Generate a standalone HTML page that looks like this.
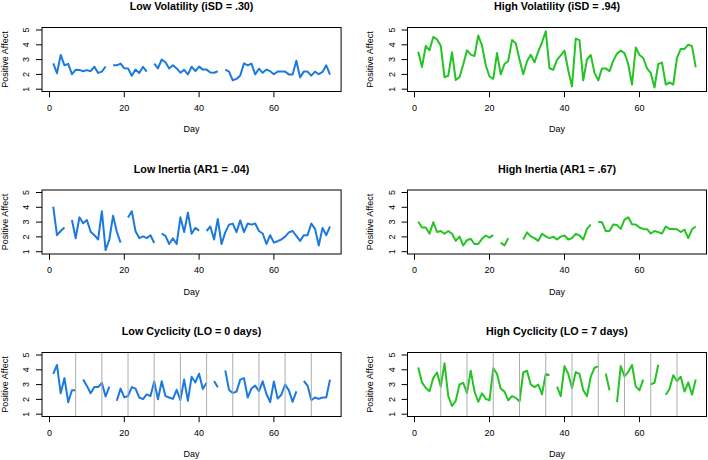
<!DOCTYPE html><html><head><meta charset="utf-8"><style>html,body{margin:0;padding:0;background:#fff;width:708px;height:460px;overflow:hidden}svg{display:block}text{font-family:"Liberation Sans",sans-serif;fill:#000}</style></head><body>
<svg width="708" height="460" viewBox="0 0 708 460">
<rect width="708" height="460" fill="#fff"/>
<polyline points="53.24,63.40 56.98,73.20 60.72,54.90 64.46,65.30 68.20,63.90 71.94,74.20 75.68,69.80 79.42,69.90 83.16,71.20 86.90,70.10 90.64,71.20 94.38,66.70 98.12,72.90 101.86,71.60 105.60,66.50" fill="none" stroke="#1c7ade" stroke-width="2" stroke-linejoin="round" stroke-linecap="butt"/>
<polyline points="113.08,65.30 116.82,65.30 120.56,63.60 124.30,68.30 128.04,68.40 131.78,75.70 135.52,69.60 139.26,73.00 143.00,66.80 146.74,71.60" fill="none" stroke="#1c7ade" stroke-width="2" stroke-linejoin="round" stroke-linecap="butt"/>
<polyline points="154.22,63.60 157.96,68.40 161.70,59.50 165.44,62.20 169.18,68.40 172.92,65.30 176.66,68.40 180.40,72.70 184.14,69.90 187.88,74.40 191.62,66.70 195.36,71.20 199.10,66.60 202.84,69.60 206.58,69.60 210.32,72.50 214.06,72.70 217.80,71.30" fill="none" stroke="#1c7ade" stroke-width="2" stroke-linejoin="round" stroke-linecap="butt"/>
<polyline points="225.28,69.60 229.02,71.60 232.76,80.30 236.50,78.90 240.24,75.50 243.98,63.40 247.72,65.30 251.46,63.60 255.20,74.40 258.94,68.70 262.68,72.80 266.42,69.60 270.16,71.20 273.90,74.30 277.64,71.60 281.38,71.60 285.12,71.60 288.86,74.40 292.60,74.40 296.34,60.80 300.08,77.40 303.82,71.60 307.56,71.60 311.30,75.70 315.04,71.60 318.78,74.20 322.52,71.90 326.26,65.30 330.00,74.60" fill="none" stroke="#1c7ade" stroke-width="2" stroke-linejoin="round" stroke-linecap="butt"/>
<rect x="42.0" y="27.5" width="299.10" height="64.00" fill="none" stroke="#000" stroke-width="1"/>
<line x1="36.0" y1="89.20" x2="42.0" y2="89.20" stroke="#000" stroke-width="1"/>
<text transform="translate(29.3,89.20) rotate(-90)" text-anchor="middle" font-size="9">1</text>
<line x1="36.0" y1="74.40" x2="42.0" y2="74.40" stroke="#000" stroke-width="1"/>
<text transform="translate(29.3,74.40) rotate(-90)" text-anchor="middle" font-size="9">2</text>
<line x1="36.0" y1="59.60" x2="42.0" y2="59.60" stroke="#000" stroke-width="1"/>
<text transform="translate(29.3,59.60) rotate(-90)" text-anchor="middle" font-size="9">3</text>
<line x1="36.0" y1="44.80" x2="42.0" y2="44.80" stroke="#000" stroke-width="1"/>
<text transform="translate(29.3,44.80) rotate(-90)" text-anchor="middle" font-size="9">4</text>
<line x1="36.0" y1="30.00" x2="42.0" y2="30.00" stroke="#000" stroke-width="1"/>
<text transform="translate(29.3,30.00) rotate(-90)" text-anchor="middle" font-size="9">5</text>
<line x1="49.50" y1="91.5" x2="49.50" y2="97.20" stroke="#000" stroke-width="1"/>
<text x="49.50" y="110.80" text-anchor="middle" font-size="9">0</text>
<line x1="124.30" y1="91.5" x2="124.30" y2="97.20" stroke="#000" stroke-width="1"/>
<text x="124.30" y="110.80" text-anchor="middle" font-size="9">20</text>
<line x1="199.10" y1="91.5" x2="199.10" y2="97.20" stroke="#000" stroke-width="1"/>
<text x="199.10" y="110.80" text-anchor="middle" font-size="9">40</text>
<line x1="273.90" y1="91.5" x2="273.90" y2="97.20" stroke="#000" stroke-width="1"/>
<text x="273.90" y="110.80" text-anchor="middle" font-size="9">60</text>
<text x="191.55" y="132.30" text-anchor="middle" font-size="9">Day</text>
<text transform="translate(7.6,59.50) rotate(-90)" text-anchor="middle" font-size="9">Positive Affect</text>
<text x="191.55" y="10.00" text-anchor="middle" font-size="10.75" font-weight="bold">Low Volatility (iSD = .30)</text>
<polyline points="418.25,51.70 422.00,67.00 425.75,45.80 429.50,50.30 433.25,36.90 437.00,39.40 440.75,45.80 444.50,77.20 448.25,75.80 452.00,52.20 455.75,80.00 459.50,77.20 463.25,64.50 467.00,50.30 470.75,54.60 474.50,56.00 478.25,35.50 482.00,45.40 485.75,65.20 489.50,76.50 493.25,78.80 497.00,53.10 500.75,74.30 504.50,64.00 508.25,60.90 512.00,40.10 515.75,43.30 519.50,59.50 523.25,74.30 527.00,61.30 530.75,54.80 534.50,62.30 538.25,51.70 542.00,42.50 545.75,31.20 549.50,68.30 553.25,69.80 557.00,59.80 560.75,55.30 564.50,50.70 568.25,70.50 572.00,86.40 575.75,38.60 579.50,40.10 583.25,80.40 587.00,59.50 590.75,55.00 594.50,72.90 598.25,80.40 602.00,68.40 605.75,68.40 609.50,71.10 613.25,60.90 617.00,53.60 620.75,50.60 624.50,53.10 628.25,64.20 632.00,84.70 635.75,47.50 639.50,55.00 643.25,58.00 647.00,68.30 650.75,72.90 654.50,87.50 658.25,64.00 662.00,62.60 665.75,84.50 669.50,82.50 673.25,84.50 677.00,57.80 680.75,48.90 684.50,48.90 688.25,44.70 692.00,46.10 695.75,67.30" fill="none" stroke="#24c424" stroke-width="2" stroke-linejoin="round" stroke-linecap="butt"/>
<rect x="407.5" y="27.5" width="299.00" height="64.00" fill="none" stroke="#000" stroke-width="1"/>
<line x1="401.6" y1="89.20" x2="407.5" y2="89.20" stroke="#000" stroke-width="1"/>
<text transform="translate(394.8,89.20) rotate(-90)" text-anchor="middle" font-size="9">1</text>
<line x1="401.6" y1="74.40" x2="407.5" y2="74.40" stroke="#000" stroke-width="1"/>
<text transform="translate(394.8,74.40) rotate(-90)" text-anchor="middle" font-size="9">2</text>
<line x1="401.6" y1="59.60" x2="407.5" y2="59.60" stroke="#000" stroke-width="1"/>
<text transform="translate(394.8,59.60) rotate(-90)" text-anchor="middle" font-size="9">3</text>
<line x1="401.6" y1="44.80" x2="407.5" y2="44.80" stroke="#000" stroke-width="1"/>
<text transform="translate(394.8,44.80) rotate(-90)" text-anchor="middle" font-size="9">4</text>
<line x1="401.6" y1="30.00" x2="407.5" y2="30.00" stroke="#000" stroke-width="1"/>
<text transform="translate(394.8,30.00) rotate(-90)" text-anchor="middle" font-size="9">5</text>
<line x1="414.50" y1="91.5" x2="414.50" y2="97.20" stroke="#000" stroke-width="1"/>
<text x="414.50" y="110.80" text-anchor="middle" font-size="9">0</text>
<line x1="489.50" y1="91.5" x2="489.50" y2="97.20" stroke="#000" stroke-width="1"/>
<text x="489.50" y="110.80" text-anchor="middle" font-size="9">20</text>
<line x1="564.50" y1="91.5" x2="564.50" y2="97.20" stroke="#000" stroke-width="1"/>
<text x="564.50" y="110.80" text-anchor="middle" font-size="9">40</text>
<line x1="639.50" y1="91.5" x2="639.50" y2="97.20" stroke="#000" stroke-width="1"/>
<text x="639.50" y="110.80" text-anchor="middle" font-size="9">60</text>
<text x="557.00" y="132.30" text-anchor="middle" font-size="9">Day</text>
<text transform="translate(373.1,59.50) rotate(-90)" text-anchor="middle" font-size="9">Positive Affect</text>
<text x="557.00" y="10.00" text-anchor="middle" font-size="10.75" font-weight="bold">High Volatility (iSD = .94)</text>
<polyline points="53.24,206.70 56.98,235.20 60.72,231.00 64.46,227.50" fill="none" stroke="#1c7ade" stroke-width="2" stroke-linejoin="round" stroke-linecap="butt"/>
<polyline points="71.94,220.00 75.68,238.30 79.42,217.30 83.16,223.20 86.90,220.00 90.64,231.70 94.38,235.20 98.12,239.50 101.86,211.20 105.60,250.10 109.34,239.50 113.08,215.70 116.82,231.70 120.56,242.60" fill="none" stroke="#1c7ade" stroke-width="2" stroke-linejoin="round" stroke-linecap="butt"/>
<polyline points="128.04,217.40 131.78,211.20 135.52,231.30 139.26,238.10 143.00,236.40 146.74,238.10 150.48,235.20 154.22,243.00" fill="none" stroke="#1c7ade" stroke-width="2" stroke-linejoin="round" stroke-linecap="butt"/>
<polyline points="161.70,233.50 165.44,235.90 169.18,244.00 172.92,238.30 176.66,244.00 180.40,217.30 184.14,232.10 187.88,212.60 191.62,233.80 195.36,227.70 199.10,230.80" fill="none" stroke="#1c7ade" stroke-width="2" stroke-linejoin="round" stroke-linecap="butt"/>
<polyline points="206.58,231.00 210.32,226.50 214.06,239.50 217.80,219.00 221.54,244.00 225.28,232.40 229.02,224.60 232.76,223.60 236.50,232.10 240.24,220.40 243.98,232.10 247.72,223.50 251.46,224.60 255.20,223.50 258.94,231.00 262.68,233.50 266.42,244.00 270.16,235.20 273.90,242.60 277.64,241.20 281.38,239.50 285.12,236.60 288.86,232.40 292.60,231.00 296.34,235.90 300.08,240.90 303.82,235.20 307.56,235.20 311.30,223.50 315.04,228.90 318.78,245.50 322.52,227.90 326.26,235.20 330.00,226.50" fill="none" stroke="#1c7ade" stroke-width="2" stroke-linejoin="round" stroke-linecap="butt"/>
<rect x="42.0" y="190.0" width="299.10" height="64.00" fill="none" stroke="#000" stroke-width="1"/>
<line x1="36.0" y1="251.70" x2="42.0" y2="251.70" stroke="#000" stroke-width="1"/>
<text transform="translate(29.3,251.70) rotate(-90)" text-anchor="middle" font-size="9">1</text>
<line x1="36.0" y1="236.90" x2="42.0" y2="236.90" stroke="#000" stroke-width="1"/>
<text transform="translate(29.3,236.90) rotate(-90)" text-anchor="middle" font-size="9">2</text>
<line x1="36.0" y1="222.10" x2="42.0" y2="222.10" stroke="#000" stroke-width="1"/>
<text transform="translate(29.3,222.10) rotate(-90)" text-anchor="middle" font-size="9">3</text>
<line x1="36.0" y1="207.30" x2="42.0" y2="207.30" stroke="#000" stroke-width="1"/>
<text transform="translate(29.3,207.30) rotate(-90)" text-anchor="middle" font-size="9">4</text>
<line x1="36.0" y1="192.50" x2="42.0" y2="192.50" stroke="#000" stroke-width="1"/>
<text transform="translate(29.3,192.50) rotate(-90)" text-anchor="middle" font-size="9">5</text>
<line x1="49.50" y1="254.0" x2="49.50" y2="259.70" stroke="#000" stroke-width="1"/>
<text x="49.50" y="273.30" text-anchor="middle" font-size="9">0</text>
<line x1="124.30" y1="254.0" x2="124.30" y2="259.70" stroke="#000" stroke-width="1"/>
<text x="124.30" y="273.30" text-anchor="middle" font-size="9">20</text>
<line x1="199.10" y1="254.0" x2="199.10" y2="259.70" stroke="#000" stroke-width="1"/>
<text x="199.10" y="273.30" text-anchor="middle" font-size="9">40</text>
<line x1="273.90" y1="254.0" x2="273.90" y2="259.70" stroke="#000" stroke-width="1"/>
<text x="273.90" y="273.30" text-anchor="middle" font-size="9">60</text>
<text x="191.55" y="294.80" text-anchor="middle" font-size="9">Day</text>
<text transform="translate(7.6,222.00) rotate(-90)" text-anchor="middle" font-size="9">Positive Affect</text>
<text x="191.55" y="172.50" text-anchor="middle" font-size="10.75" font-weight="bold">Low Inertia (AR1 = .04)</text>
<polyline points="418.25,221.80 422.00,227.50 425.75,227.50 429.50,233.80 433.25,222.20 437.00,232.00 440.75,231.00 444.50,233.80 448.25,231.00 452.00,233.80 455.75,240.90 459.50,236.60 463.25,245.50 467.00,240.20 470.75,238.80 474.50,244.00 478.25,244.00 482.00,238.80 485.75,235.50 489.50,237.70 493.25,235.20" fill="none" stroke="#24c424" stroke-width="2" stroke-linejoin="round" stroke-linecap="butt"/>
<polyline points="500.75,242.60 504.50,245.50 508.25,238.10" fill="none" stroke="#24c424" stroke-width="2" stroke-linejoin="round" stroke-linecap="butt"/>
<polyline points="523.25,239.50 527.00,232.40 530.75,236.40 534.50,238.10 538.25,240.90 542.00,233.80 545.75,236.40 549.50,238.10 553.25,236.60 557.00,239.50 560.75,236.60 564.50,235.50 568.25,239.50 572.00,238.10 575.75,233.80 579.50,235.50 583.25,239.50 587.00,228.90 590.75,224.60" fill="none" stroke="#24c424" stroke-width="2" stroke-linejoin="round" stroke-linecap="butt"/>
<polyline points="598.25,221.80 602.00,222.20 605.75,231.00 609.50,231.00 613.25,224.60 617.00,225.10 620.75,228.90 624.50,219.70 628.25,217.30 632.00,224.30 635.75,224.60 639.50,227.50 643.25,228.90 647.00,229.20 650.75,233.50 654.50,231.00 658.25,232.10 662.00,233.50 665.75,226.50 669.50,228.90 673.25,228.90 677.00,229.20 680.75,232.00 684.50,229.60 688.25,238.10 692.00,229.30 695.75,226.50" fill="none" stroke="#24c424" stroke-width="2" stroke-linejoin="round" stroke-linecap="butt"/>
<rect x="407.5" y="190.0" width="299.00" height="64.00" fill="none" stroke="#000" stroke-width="1"/>
<line x1="401.6" y1="251.70" x2="407.5" y2="251.70" stroke="#000" stroke-width="1"/>
<text transform="translate(394.8,251.70) rotate(-90)" text-anchor="middle" font-size="9">1</text>
<line x1="401.6" y1="236.90" x2="407.5" y2="236.90" stroke="#000" stroke-width="1"/>
<text transform="translate(394.8,236.90) rotate(-90)" text-anchor="middle" font-size="9">2</text>
<line x1="401.6" y1="222.10" x2="407.5" y2="222.10" stroke="#000" stroke-width="1"/>
<text transform="translate(394.8,222.10) rotate(-90)" text-anchor="middle" font-size="9">3</text>
<line x1="401.6" y1="207.30" x2="407.5" y2="207.30" stroke="#000" stroke-width="1"/>
<text transform="translate(394.8,207.30) rotate(-90)" text-anchor="middle" font-size="9">4</text>
<line x1="401.6" y1="192.50" x2="407.5" y2="192.50" stroke="#000" stroke-width="1"/>
<text transform="translate(394.8,192.50) rotate(-90)" text-anchor="middle" font-size="9">5</text>
<line x1="414.50" y1="254.0" x2="414.50" y2="259.70" stroke="#000" stroke-width="1"/>
<text x="414.50" y="273.30" text-anchor="middle" font-size="9">0</text>
<line x1="489.50" y1="254.0" x2="489.50" y2="259.70" stroke="#000" stroke-width="1"/>
<text x="489.50" y="273.30" text-anchor="middle" font-size="9">20</text>
<line x1="564.50" y1="254.0" x2="564.50" y2="259.70" stroke="#000" stroke-width="1"/>
<text x="564.50" y="273.30" text-anchor="middle" font-size="9">40</text>
<line x1="639.50" y1="254.0" x2="639.50" y2="259.70" stroke="#000" stroke-width="1"/>
<text x="639.50" y="273.30" text-anchor="middle" font-size="9">60</text>
<text x="557.00" y="294.80" text-anchor="middle" font-size="9">Day</text>
<text transform="translate(373.1,222.00) rotate(-90)" text-anchor="middle" font-size="9">Positive Affect</text>
<text x="557.00" y="172.50" text-anchor="middle" font-size="10.75" font-weight="bold">High Inertia (AR1 = .67)</text>
<polyline points="53.24,373.90 56.98,365.00 60.72,393.30 64.46,378.10 68.20,402.20 71.94,390.20 75.68,390.20" fill="none" stroke="#1c7ade" stroke-width="2" stroke-linejoin="round" stroke-linecap="butt"/>
<polyline points="83.16,379.60 86.90,385.90 90.64,393.30 94.38,387.10 98.12,387.10 101.86,382.80 105.60,396.50 109.34,386.60" fill="none" stroke="#1c7ade" stroke-width="2" stroke-linejoin="round" stroke-linecap="butt"/>
<polyline points="116.82,400.80 120.56,388.60 124.30,397.40 128.04,396.00 131.78,387.10 135.52,388.70 139.26,397.50 143.00,399.10 146.74,394.40 150.48,396.10 154.22,381.40 157.96,399.30 161.70,381.30 165.44,396.10 169.18,397.50 172.92,398.90 176.66,389.90 180.40,400.10 184.14,379.60 187.88,400.80 191.62,376.70 195.36,382.40 199.10,373.70 202.84,389.00 206.58,382.80" fill="none" stroke="#1c7ade" stroke-width="2" stroke-linejoin="round" stroke-linecap="butt"/>
<polyline points="214.06,381.00 217.80,387.30" fill="none" stroke="#1c7ade" stroke-width="2" stroke-linejoin="round" stroke-linecap="butt"/>
<polyline points="225.28,370.40 229.02,389.90 232.76,393.00 236.50,391.60 240.24,379.60 243.98,378.10 247.72,397.50 251.46,388.50 255.20,385.60 258.94,391.30 262.68,381.30 266.42,394.00 270.16,402.00 273.90,381.50 277.64,398.60 281.38,394.70 285.12,384.50 288.86,390.40 292.60,401.80 296.34,391.30" fill="none" stroke="#1c7ade" stroke-width="2" stroke-linejoin="round" stroke-linecap="butt"/>
<polyline points="303.82,381.00 307.56,385.60 311.30,400.10 315.04,397.50 318.78,398.90 322.52,397.50 326.26,397.50 330.00,379.60" fill="none" stroke="#1c7ade" stroke-width="2" stroke-linejoin="round" stroke-linecap="butt"/>
<line x1="75.68" y1="352.50" x2="75.68" y2="416.50" stroke="#adadad" stroke-width="1"/>
<line x1="101.86" y1="352.50" x2="101.86" y2="416.50" stroke="#adadad" stroke-width="1"/>
<line x1="128.04" y1="352.50" x2="128.04" y2="416.50" stroke="#adadad" stroke-width="1"/>
<line x1="154.22" y1="352.50" x2="154.22" y2="416.50" stroke="#adadad" stroke-width="1"/>
<line x1="180.40" y1="352.50" x2="180.40" y2="416.50" stroke="#adadad" stroke-width="1"/>
<line x1="206.58" y1="352.50" x2="206.58" y2="416.50" stroke="#adadad" stroke-width="1"/>
<line x1="232.76" y1="352.50" x2="232.76" y2="416.50" stroke="#adadad" stroke-width="1"/>
<line x1="258.94" y1="352.50" x2="258.94" y2="416.50" stroke="#adadad" stroke-width="1"/>
<line x1="285.12" y1="352.50" x2="285.12" y2="416.50" stroke="#adadad" stroke-width="1"/>
<line x1="311.30" y1="352.50" x2="311.30" y2="416.50" stroke="#adadad" stroke-width="1"/>
<rect x="42.0" y="352.5" width="299.10" height="64.00" fill="none" stroke="#000" stroke-width="1"/>
<line x1="36.0" y1="414.20" x2="42.0" y2="414.20" stroke="#000" stroke-width="1"/>
<text transform="translate(29.3,414.20) rotate(-90)" text-anchor="middle" font-size="9">1</text>
<line x1="36.0" y1="399.40" x2="42.0" y2="399.40" stroke="#000" stroke-width="1"/>
<text transform="translate(29.3,399.40) rotate(-90)" text-anchor="middle" font-size="9">2</text>
<line x1="36.0" y1="384.60" x2="42.0" y2="384.60" stroke="#000" stroke-width="1"/>
<text transform="translate(29.3,384.60) rotate(-90)" text-anchor="middle" font-size="9">3</text>
<line x1="36.0" y1="369.80" x2="42.0" y2="369.80" stroke="#000" stroke-width="1"/>
<text transform="translate(29.3,369.80) rotate(-90)" text-anchor="middle" font-size="9">4</text>
<line x1="36.0" y1="355.00" x2="42.0" y2="355.00" stroke="#000" stroke-width="1"/>
<text transform="translate(29.3,355.00) rotate(-90)" text-anchor="middle" font-size="9">5</text>
<line x1="49.50" y1="416.5" x2="49.50" y2="422.20" stroke="#000" stroke-width="1"/>
<text x="49.50" y="435.80" text-anchor="middle" font-size="9">0</text>
<line x1="124.30" y1="416.5" x2="124.30" y2="422.20" stroke="#000" stroke-width="1"/>
<text x="124.30" y="435.80" text-anchor="middle" font-size="9">20</text>
<line x1="199.10" y1="416.5" x2="199.10" y2="422.20" stroke="#000" stroke-width="1"/>
<text x="199.10" y="435.80" text-anchor="middle" font-size="9">40</text>
<line x1="273.90" y1="416.5" x2="273.90" y2="422.20" stroke="#000" stroke-width="1"/>
<text x="273.90" y="435.80" text-anchor="middle" font-size="9">60</text>
<text x="191.55" y="457.30" text-anchor="middle" font-size="9">Day</text>
<text transform="translate(7.6,384.50) rotate(-90)" text-anchor="middle" font-size="9">Positive Affect</text>
<text x="191.55" y="335.00" text-anchor="middle" font-size="10.75" font-weight="bold">Low Cyclicity (LO = 0 days)</text>
<polyline points="418.25,367.50 422.00,382.40 425.75,388.00 429.50,391.30 433.25,378.10 437.00,372.50 440.75,386.60 444.50,363.30 448.25,396.10 452.00,406.00 455.75,400.80 459.50,384.50 463.25,382.80 467.00,393.00 470.75,370.70 474.50,391.60 478.25,401.80 482.00,393.30 485.75,398.90 489.50,400.30 493.25,368.30 497.00,373.90 500.75,388.70 504.50,391.60 508.25,400.30 512.00,396.10 515.75,397.90 519.50,401.50 523.25,372.50 527.00,370.70 530.75,384.50 534.50,387.10 538.25,384.50 542.00,394.40 545.75,373.90 549.50,375.30" fill="none" stroke="#24c424" stroke-width="2" stroke-linejoin="round" stroke-linecap="butt"/>
<polyline points="557.00,386.60 560.75,396.10 564.50,366.10 568.25,373.90 572.00,388.00 575.75,372.10 579.50,373.90 583.25,390.20 587.00,396.10 590.75,376.70 594.50,367.80 598.25,366.40" fill="none" stroke="#24c424" stroke-width="2" stroke-linejoin="round" stroke-linecap="butt"/>
<polyline points="605.75,373.50 609.50,390.20" fill="none" stroke="#24c424" stroke-width="2" stroke-linejoin="round" stroke-linecap="butt"/>
<polyline points="617.00,402.20 620.75,366.10 624.50,376.30 628.25,371.80 632.00,365.00 635.75,386.60 639.50,390.20 643.25,379.60" fill="none" stroke="#24c424" stroke-width="2" stroke-linejoin="round" stroke-linecap="butt"/>
<polyline points="650.75,384.20 654.50,382.80 658.25,364.70" fill="none" stroke="#24c424" stroke-width="2" stroke-linejoin="round" stroke-linecap="butt"/>
<polyline points="665.75,394.70 669.50,389.00 673.25,375.30 677.00,381.00 680.75,376.70 684.50,391.60 688.25,382.40 692.00,394.70 695.75,379.60" fill="none" stroke="#24c424" stroke-width="2" stroke-linejoin="round" stroke-linecap="butt"/>
<line x1="440.75" y1="352.50" x2="440.75" y2="416.50" stroke="#adadad" stroke-width="1"/>
<line x1="467.00" y1="352.50" x2="467.00" y2="416.50" stroke="#adadad" stroke-width="1"/>
<line x1="493.25" y1="352.50" x2="493.25" y2="416.50" stroke="#adadad" stroke-width="1"/>
<line x1="519.50" y1="352.50" x2="519.50" y2="416.50" stroke="#adadad" stroke-width="1"/>
<line x1="545.75" y1="352.50" x2="545.75" y2="416.50" stroke="#adadad" stroke-width="1"/>
<line x1="572.00" y1="352.50" x2="572.00" y2="416.50" stroke="#adadad" stroke-width="1"/>
<line x1="598.25" y1="352.50" x2="598.25" y2="416.50" stroke="#adadad" stroke-width="1"/>
<line x1="624.50" y1="352.50" x2="624.50" y2="416.50" stroke="#adadad" stroke-width="1"/>
<line x1="650.75" y1="352.50" x2="650.75" y2="416.50" stroke="#adadad" stroke-width="1"/>
<line x1="677.00" y1="352.50" x2="677.00" y2="416.50" stroke="#adadad" stroke-width="1"/>
<rect x="407.5" y="352.5" width="299.00" height="64.00" fill="none" stroke="#000" stroke-width="1"/>
<line x1="401.6" y1="414.20" x2="407.5" y2="414.20" stroke="#000" stroke-width="1"/>
<text transform="translate(394.8,414.20) rotate(-90)" text-anchor="middle" font-size="9">1</text>
<line x1="401.6" y1="399.40" x2="407.5" y2="399.40" stroke="#000" stroke-width="1"/>
<text transform="translate(394.8,399.40) rotate(-90)" text-anchor="middle" font-size="9">2</text>
<line x1="401.6" y1="384.60" x2="407.5" y2="384.60" stroke="#000" stroke-width="1"/>
<text transform="translate(394.8,384.60) rotate(-90)" text-anchor="middle" font-size="9">3</text>
<line x1="401.6" y1="369.80" x2="407.5" y2="369.80" stroke="#000" stroke-width="1"/>
<text transform="translate(394.8,369.80) rotate(-90)" text-anchor="middle" font-size="9">4</text>
<line x1="401.6" y1="355.00" x2="407.5" y2="355.00" stroke="#000" stroke-width="1"/>
<text transform="translate(394.8,355.00) rotate(-90)" text-anchor="middle" font-size="9">5</text>
<line x1="414.50" y1="416.5" x2="414.50" y2="422.20" stroke="#000" stroke-width="1"/>
<text x="414.50" y="435.80" text-anchor="middle" font-size="9">0</text>
<line x1="489.50" y1="416.5" x2="489.50" y2="422.20" stroke="#000" stroke-width="1"/>
<text x="489.50" y="435.80" text-anchor="middle" font-size="9">20</text>
<line x1="564.50" y1="416.5" x2="564.50" y2="422.20" stroke="#000" stroke-width="1"/>
<text x="564.50" y="435.80" text-anchor="middle" font-size="9">40</text>
<line x1="639.50" y1="416.5" x2="639.50" y2="422.20" stroke="#000" stroke-width="1"/>
<text x="639.50" y="435.80" text-anchor="middle" font-size="9">60</text>
<text x="557.00" y="457.30" text-anchor="middle" font-size="9">Day</text>
<text transform="translate(373.1,384.50) rotate(-90)" text-anchor="middle" font-size="9">Positive Affect</text>
<text x="557.00" y="335.00" text-anchor="middle" font-size="10.75" font-weight="bold">High Cyclicity (LO = 7 days)</text>
</svg></body></html>
